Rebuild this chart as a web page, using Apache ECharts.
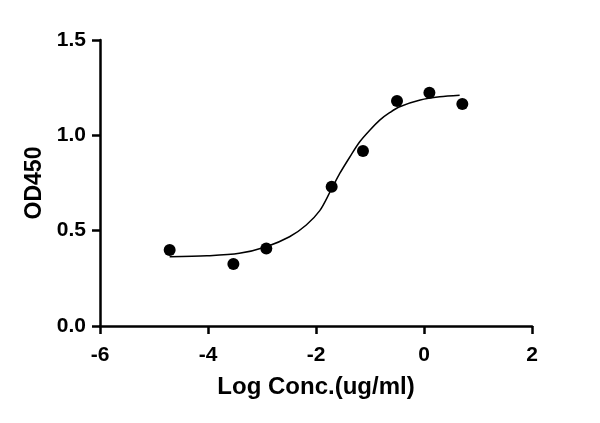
<!DOCTYPE html>
<html>
<head>
<meta charset="utf-8">
<script src="https://cdn.jsdelivr.net/npm/echarts@6/dist/echarts.min.js"></script>
<style>
    html, body {
        margin: 0;
        padding: 0;
        background: #fff;
    }

    #chart {
        width: 600px;
        height: 423px;
    }
</style>
</head>
<body>
<div id="chart"></div>
<script>
    // measured points (log conc, OD450)
    let pointX = [-4.71, -3.53, -2.92, -1.71, -1.13, -0.50, 0.10, 0.71];
    let pointY = [0.399, 0.325, 0.407, 0.730, 0.918, 1.180, 1.223, 1.164];

    // fitted curve
    let curveX = [-4.71, -4.02, -3.42, -2.92, -2.49, -2.18, -1.93, -1.74, -1.56, -1.37, -1.19, -1.00, -0.82, -0.63, -0.45, -0.07, 0.29, 0.66];
    let curveY = [0.363, 0.368, 0.381, 0.416, 0.468, 0.530, 0.605, 0.703, 0.800, 0.888, 0.966, 1.028, 1.080, 1.120, 1.150, 1.185, 1.202, 1.210];

    let xTicks = [-6, -4, -2, 0, 2];
    let yTicks = [0.0, 0.5, 1.0, 1.5];

    let myChart = echarts.init(document.getElementById('chart'));

    let points = pointX.map((x, i)=> {
        return [x, pointY[i]];
    });
    let curve = curveX.map((x, i)=> {
        return [x, curveY[i]];
    });

    let fontFamily = '"Liberation Sans", Arial, sans-serif';

    let option = {
        animation: false,
        backgroundColor: '#fff',
        grid: {
            left: 100,
            right: 68,
            top: 40,
            bottom: 97
        },
        xAxis: {
            type: 'value',
            min: xTicks[0],
            max: xTicks[xTicks.length - 1],
            interval: 2,
            name: 'Log Conc.(ug/ml)',
            nameLocation: 'middle',
            nameGap: 49,
            nameTextStyle: {
                color: '#000',
                fontWeight: 'bold',
                fontSize: 24,
                fontFamily: fontFamily
            },
            axisLine: {
                onZero: false,
                lineStyle: {color: '#000', width: 2.5}
            },
            axisTick: {
                show: true,
                length: 8,
                lineStyle: {color: '#000', width: 2.5}
            },
            axisLabel: {
                color: '#000',
                fontWeight: 'bold',
                fontSize: 21,
                fontFamily: fontFamily,
                margin: 19
            },
            splitLine: {show: false}
        },
        yAxis: {
            type: 'value',
            min: yTicks[0],
            max: yTicks[yTicks.length - 1],
            interval: 0.5,
            name: 'OD450',
            nameLocation: 'middle',
            nameGap: 52,
            nameTextStyle: {
                color: '#000',
                fontWeight: 'bold',
                fontSize: 23,
                fontFamily: fontFamily
            },
            axisLine: {
                show: true,
                onZero: false,
                lineStyle: {color: '#000', width: 2.5}
            },
            axisTick: {
                show: true,
                length: 8,
                lineStyle: {color: '#000', width: 2.5}
            },
            axisLabel: {
                color: '#000',
                fontWeight: 'bold',
                fontSize: 21,
                fontFamily: fontFamily,
                margin: 14,
                formatter: (v)=> v.toFixed(1)
            },
            splitLine: {show: false}
        },
        series: [
            {
                type: 'line',
                data: curve,
                smooth: 0.3,
                showSymbol: false,
                lineStyle: {color: '#000', width: 1.5}
            },
            {
                type: 'scatter',
                data: points,
                symbol: 'circle',
                symbolSize: 12,
                itemStyle: {color: '#000', opacity: 1}
            }
        ]
    };

    myChart.setOption(option);
</script>
</body>
</html>
